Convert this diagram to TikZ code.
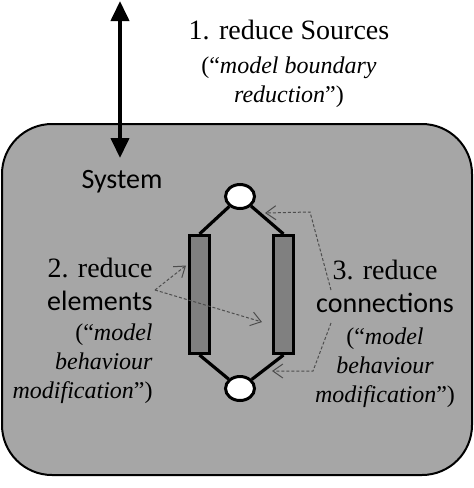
\documentclass[tikz,border=0pt]{standalone}
\usepackage{fontspec}
\setmainfont{Liberation Serif}
\newfontfamily\calibri{Carlito}
\usetikzlibrary{arrows.meta,shapes.geometric,calc}
\definecolor{sysgray}{HTML}{A6A6A6}
\definecolor{elemgray}{HTML}{808080}
\definecolor{hintgray}{HTML}{4D4D4D}
\tikzset{
  sysbox/.style={draw=black, line width=1pt, fill=sysgray, rounded corners=25pt},
  element/.style={draw=black, line width=1.5pt, fill=elemgray, minimum width=10pt, minimum height=59pt, inner sep=0pt},
  junction/.style={ellipse, draw=black, line width=1.5pt, fill=white, minimum width=14.5pt, minimum height=12pt, inner sep=0pt},
  link/.style={line width=1.6pt},
  hint/.style={draw=hintgray, line width=0.5pt, dash pattern=on 1.5pt off 1pt, -{Straight Barb[length=5pt,width=7pt]}},
  remark/.style={inner sep=0pt, font=\fontsize{12}{14.5}\selectfont},
}
\begin{document}
\begin{tikzpicture}[x=0.5pt, y=-0.5pt]
	\useasboundingbox (0,0) rectangle (474,488);
	%%%%% SYSTEM %%%%%
	\draw[sysbox] (2,124) rectangle (472,475);
	\node[remark, anchor=base, font=\calibri\fontsize{14}{14}\selectfont] (system) at (122,188) {System};
	
	%%%%% SOURCES %%%%%
	\coordinate (src) at (120,1);
	\coordinate (sysin) at (120,158);
	\draw[line width=2pt, {Triangle[length=10pt,width=9pt]}-{Triangle[length=10pt,width=9pt]}] (src) -- (sysin);
	\node[remark, anchor=base, align=center] (sources) at (289,102) {{\fontsize{14}{14}\selectfont 1. reduce Sources}\\[2.5pt] (“\textit{model boundary}\\ \textit{reduction}”)};
	
	%%%%% ELEMENTS AND CONNECTIONS %%%%%
	\node[junction] (top) at (240,196.5) {};
	\node[junction] (bot) at (240,388.5) {};
	\node[element] (left) at (199.5,294.5) {};
	\node[element] (right) at (283.5,294.5) {};
	\draw[link] (top) -- (left.north);
	\draw[link] (top) -- (right.north);
	\draw[link] (left.south) -- (bot);
	\draw[link] (right.south) -- (bot);
	
	%%%%% HINTS %%%%%
	\node[remark, anchor=base east, align=right] (elems) at (153,398) {{\fontsize{14}{14}\selectfont 2. reduce}\\[2pt] {\calibri\fontsize{14}{14}\selectfont elements}\\[0.5pt] (“\textit{model}\\ \textit{behaviour}\\ \textit{modification}”)};
	\coordinate (elemfork) at (155,290);
	\draw[hint] (elemfork) -- ($(left.west)+(-2,-29)$);
	\draw[hint] (elemfork) -- ($(right.west)+(-10,27.5)$);
	
	\node[remark, anchor=base, align=center] (conns) at (385,402) {{\fontsize{14}{14}\selectfont 3. reduce}\\[2pt] {\calibri\fontsize{14}{14}\selectfont connections}\\[1.5pt] (“\textit{model}\\ \textit{behaviour}\\ \textit{modification}”)};
	\coordinate (conn-up) at (331,290);
	\coordinate (conn-dn) at (331,323);
	\coordinate (bend-up) at (310,212);
	\coordinate (bend-dn) at (313,371);
	\draw[hint] (conn-up) -- (bend-up) -- ($(top)+(25,16.5)$);
	\draw[hint] (conn-dn) -- (bend-dn) -- ($(bot)+(32,-17.5)$);
\end{tikzpicture}
\end{document}
